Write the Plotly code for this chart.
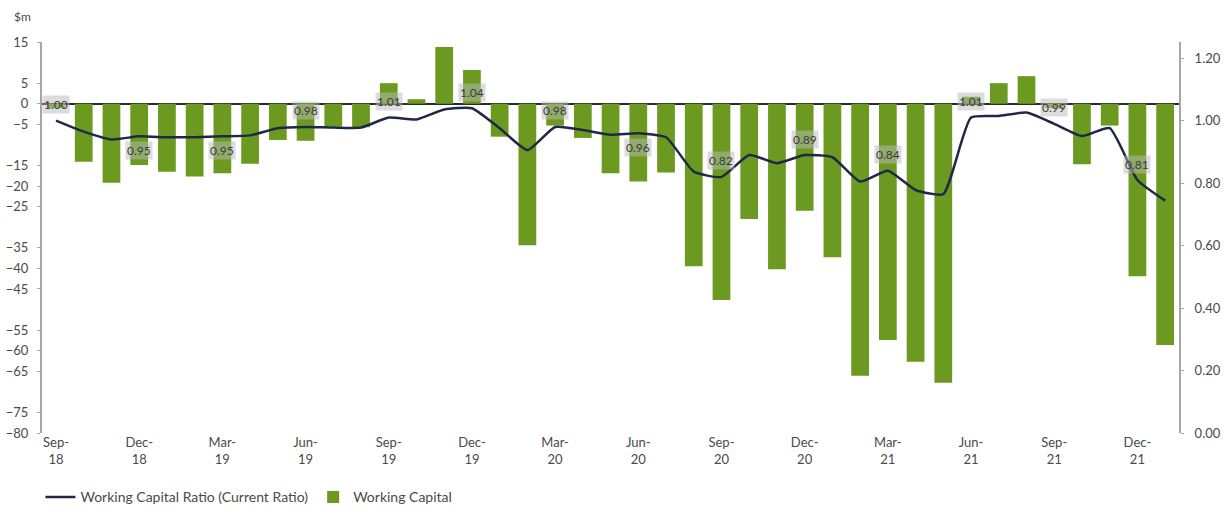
import plotly.graph_objects as go

# Month-end periods, Sep-18 to Jan-22
months = ["Sep", "Oct", "Nov", "Dec", "Jan", "Feb", "Mar", "Apr", "May", "Jun", "Jul", "Aug"]
periods = []
for k in range(41):
    yr = 18 + (8 + k) // 12
    periods.append(f"{months[k % 12]}-{yr:02d}")

# Working capital, $m
working_capital = [
    -1.0, -14.1, -19.2, -14.9, -16.5, -17.7, -16.9, -14.6, -8.8, -9.0,
    -5.6, -5.7, 5.0, 1.1, 13.8, 8.2, -8.0, -34.4, -5.3, -8.3,
    -16.9, -18.9, -16.7, -39.5, -47.7, -28.0, -40.2, -26.0, -37.3, -66.1,
    -57.4, -62.7, -67.8, 1.7, 5.0, 6.7, -1.0, -14.7, -5.3, -41.9,
    -58.6,
]

# Working capital ratio (current ratio)
current_ratio = [
    1.00, 0.965, 0.94, 0.95, 0.947, 0.947, 0.95, 0.953, 0.976, 0.98,
    0.978, 0.978, 1.01, 1.004, 1.036, 1.04, 0.976, 0.906, 0.98, 0.970,
    0.955, 0.96, 0.947, 0.837, 0.82, 0.890, 0.864, 0.89, 0.883, 0.805,
    0.84, 0.778, 0.765, 1.01, 1.015, 1.026, 0.99, 0.951, 0.976, 0.81,
    0.744,
]

# Quarter-end periods carry a ratio label; side = placement relative to the line
label_side = {
    "Sep-18": "above", "Dec-18": "below", "Mar-19": "below", "Jun-19": "above",
    "Sep-19": "above", "Dec-19": "above", "Mar-20": "above", "Jun-20": "below",
    "Sep-20": "above", "Dec-20": "above", "Mar-21": "above", "Jun-21": "above",
    "Sep-21": "above", "Dec-21": "above",
}

left_ticks = [15, 5, 0, -5, -15, -20, -25, -35, -40, -45, -55, -60, -65, -75, -80]
right_ticks = [0.0, 0.2, 0.4, 0.6, 0.8, 1.0, 1.2]

quarter_periods = periods[0:40:3]
quarter_text = [p.replace("-", "-<br>") for p in quarter_periods]

BAR = "#6c9a21"
LINE = "#1f2848"
TXT = "#4a4a4a"
FONT = "Lato, 'Open Sans', sans-serif"

fig = go.Figure()

fig.add_trace(go.Scatter(
    x=periods, y=current_ratio, yaxis="y2",
    mode="lines", name="Working Capital Ratio (Current Ratio)",
    line=dict(color=LINE, width=2.5, shape="spline", smoothing=0.5),
))

fig.add_trace(go.Bar(
    x=periods, y=working_capital, yaxis="y",
    name="Working Capital", marker=dict(color=BAR, line=dict(width=0)),
))

# ratio labels at quarter ends
for p, side in label_side.items():
    i = periods.index(p)
    v = current_ratio[i]
    fig.add_annotation(
        x=p, y=v, xref="x", yref="y2",
        text=f"{v:.2f}", showarrow=False,
        yshift=16 if side == "above" else -14,
        font=dict(family=FONT, size=12, color="#3a3a3a"),
        bgcolor="rgba(185,185,185,0.5)", borderpad=1,
    )

fig.add_annotation(
    x=0, y=1, xref="paper", yref="paper", xshift=-30, yshift=26,
    text="$m", showarrow=False, xanchor="left", yanchor="middle",
    font=dict(family=FONT, size=12, color=TXT),
)

fig.update_layout(
    width=1225, height=512,
    margin=dict(l=42, r=46, t=42, b=79, autoexpand=False),
    paper_bgcolor="white", plot_bgcolor="white",
    font=dict(family=FONT, size=13, color=TXT),
    bargap=0.36,
    showlegend=True,
    legend=dict(
        orientation="h", x=0.033, y=0.06, xref="container", yref="container",
        xanchor="left", yanchor="top", traceorder="normal",
        font=dict(family=FONT, size=14, color=TXT), itemwidth=30,
    ),
    xaxis=dict(
        type="category", categoryorder="array", categoryarray=periods,
        tickmode="array", tickvals=quarter_periods, ticktext=quarter_text,
        showline=False, showgrid=False, ticks="", tickangle=0,
        tickfont=dict(family=FONT, size=13, color=TXT),
    ),
    yaxis=dict(
        range=[-80, 15], tickmode="array", tickvals=left_ticks,
        showgrid=False, showline=True, linecolor="#a6a6a6", linewidth=2,
        ticks="outside", ticklen=3, tickcolor="#a6a6a6",
        zeroline=True, zerolinecolor="#2a2a2a", zerolinewidth=1.5,
        ticklabelstandoff=6,
        tickfont=dict(family=FONT, size=13, color=TXT),
    ),
    yaxis2=dict(
        range=[0, 1.252], overlaying="y", side="right",
        tickmode="array", tickvals=right_ticks, tickformat=".2f",
        showgrid=False, showline=True, linecolor="#a6a6a6", linewidth=2,
        ticks="outside", ticklen=3, tickcolor="#a6a6a6",
        zeroline=False, ticklabelstandoff=8,
        tickfont=dict(family=FONT, size=13, color=TXT),
    ),
)

fig.write_html("out.html")
